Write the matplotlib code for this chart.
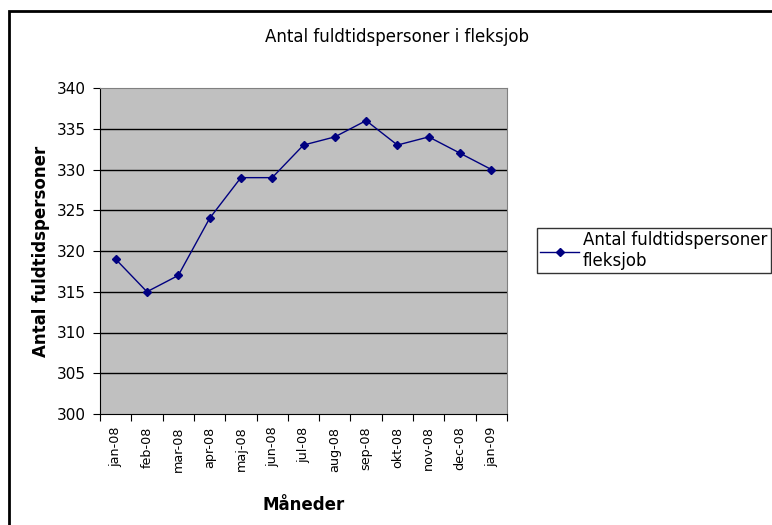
#!/usr/bin/env python

import matplotlib.pyplot as plt
from matplotlib.patches import Rectangle

months = ['jan-08', 'feb-08', 'mar-08', 'apr-08', 'maj-08', 'jun-08', 'jul-08',
          'aug-08', 'sep-08', 'okt-08', 'nov-08', 'dec-08', 'jan-09']
persons = [319, 315, 317, 324, 329, 329, 333, 334, 336, 333, 334, 332, 330]
y_ticks = [300, 305, 310, 315, 320, 325, 330, 335, 340]

NAVY = '#000080'
PLOT_BG = '#C0C0C0'


def main():
    plt.rcParams['font.family'] = ['DejaVu Sans']
    fig = plt.figure(figsize=(7.72, 5.25), dpi=100)
    ax = fig.add_axes([100 / 772, 1 - 414 / 525, 407 / 772, 326 / 525])
    ax.set_facecolor(PLOT_BG)

    x = list(range(len(months)))
    ax.plot(x, persons, color=NAVY, lw=1, marker='D', markersize=4.5,
            label='Antal fuldtidspersoner\nfleksjob')

    ax.set_xlim(-0.5, len(months) - 0.5)
    ax.set_ylim(300, 340)
    ax.set_yticks(y_ticks)
    for v in y_ticks[1:-1]:
        ax.axhline(v, color='black', lw=1, zorder=1)

    # tick marks between categories, labels centred
    ax.set_xticks([i - 0.5 for i in range(len(months) + 1)])
    ax.set_xticklabels([])
    ax.set_xticks(x, minor=True)
    ax.set_xticklabels(months, minor=True, rotation=90, fontsize=9.2)
    ax.tick_params(axis='x', which='minor', length=0, pad=9)
    ax.tick_params(axis='x', which='major', length=5, direction='out')
    ax.tick_params(axis='y', length=5, direction='out', labelsize=11, pad=5)

    for s in ['top', 'right']:
        ax.spines[s].set_color('#808080')
    for s in ['left', 'bottom']:
        ax.spines[s].set_color('black')

    ax.set_ylabel('Antal fuldtidspersoner', fontsize=12, fontweight='bold', labelpad=5)
    ax.set_xlabel('Måneder', fontsize=12, fontweight='bold', labelpad=17)

    fig.text(397 / 772, 1 - 37 / 525, 'Antal fuldtidspersoner i fleksjob',
             ha='center', va='center', fontsize=12)

    leg = fig.legend(loc='upper left', bbox_to_anchor=(537 / 772, 1 - 228 / 525),
                     fancybox=False, edgecolor='black', fontsize=12,
                     handlelength=2.3, handletextpad=0.25, borderpad=0.2,
                     borderaxespad=0)
    leg.get_frame().set_linewidth(1)

    fig.patches.append(Rectangle((9 / 772, -0.1), 1.1, 1 - 11 / 525 + 0.1,
                                 transform=fig.transFigure, fill=False,
                                 edgecolor='black', lw=2))

    fig.savefig('out.png', dpi=100)


if __name__ == '__main__':
    main()
